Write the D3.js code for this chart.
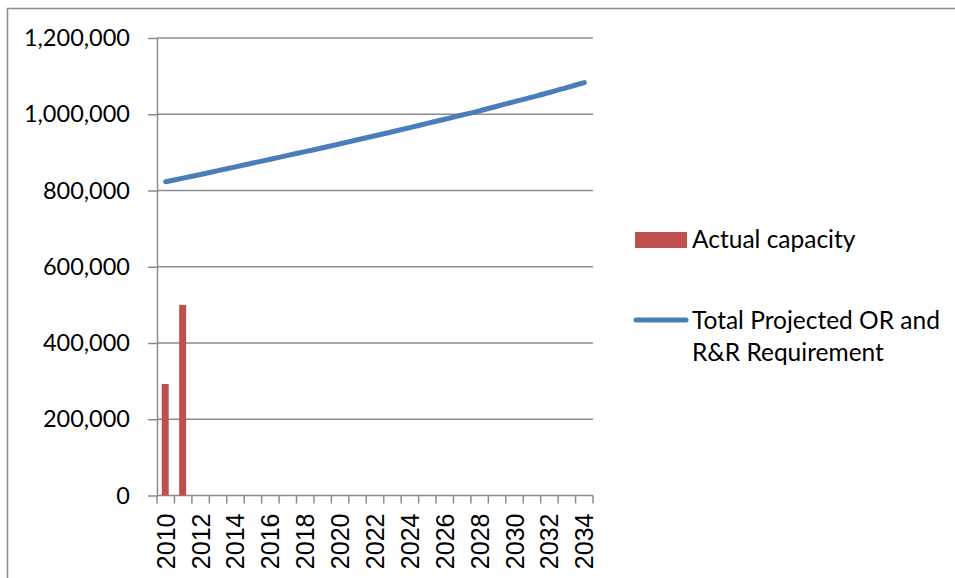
<!DOCTYPE html>
<html>
<head>
<meta charset="utf-8">
<script src="https://cdn.jsdelivr.net/npm/d3@7"></script>
<style>
  body { margin: 0; background: #fff; }
  svg { display: block; }
</style>
</head>
<body>
<div id="chart"></div>
<script>
// Years on the category axis
const years = d3.range(2010, 2035).map(String);

// Actual capacity (bars) - only first two years reported
const actualCapacity = [292500, 500000];

// Total Projected OR and R&R Requirement (line)
const projected = [
  823000, 832500, 842000, 852000, 862000, 872000, 882000, 892000, 902000,
  912000, 922500, 933000, 943500, 954000, 965000, 976000, 987000, 998000,
  1009000, 1021000, 1033000, 1045000, 1057000, 1070000, 1083000
];

const yTicks = [0, 200000, 400000, 600000, 800000, 1000000, 1200000];
const legendLabels = ["Actual capacity", ["Total Projected OR and", "R&R Requirement"]];

const width = 955, height = 578;
const plot = { left: 157, right: 593, top: 38, bottom: 495.5 };

const svg = d3.select("#chart").append("svg")
  .attr("width", width)
  .attr("height", height);

// Chart border (extends past right/bottom edges)
svg.append("rect")
  .attr("x", 7.5).attr("y", 8.5)
  .attr("width", 1000).attr("height", 1000)
  .attr("fill", "none")
  .attr("stroke", "#8c8c8c")
  .attr("stroke-width", 1.5);

const x = d3.scaleBand().domain(years).range([plot.left, plot.right]);
const y = d3.scaleLinear().domain([0, 1200000]).range([plot.bottom, plot.top]);

const fmt = d3.format(",");

// Gridlines
svg.append("g")
  .selectAll("line")
  .data(yTicks.filter(d => d > 0))
  .enter().append("line")
  .attr("x1", plot.left).attr("x2", plot.right)
  .attr("y1", d => y(d)).attr("y2", d => y(d))
  .attr("stroke", "#8c8c8c")
  .attr("stroke-width", 1.5);

// Y axis
const yAxis = svg.append("g")
  .attr("transform", `translate(${plot.left},0)`)
  .call(d3.axisLeft(y).tickValues(yTicks).tickFormat(fmt).tickSize(9).tickPadding(18).tickSizeOuter(0));
yAxis.select(".domain").attr("stroke", "#8c8c8c").attr("stroke-width", 1.5);
yAxis.selectAll(".tick line").attr("stroke", "#8c8c8c").attr("stroke-width", 1.5);
yAxis.selectAll("text")
  .attr("font-family", "Lato, sans-serif")
  .attr("font-size", 23.5)
  .attr("fill", "#000");

// X axis: ticks on category boundaries
const xAxis = svg.append("g");
xAxis.append("line")
  .attr("x1", plot.left).attr("x2", plot.right)
  .attr("y1", plot.bottom).attr("y2", plot.bottom)
  .attr("stroke", "#8c8c8c").attr("stroke-width", 1.5);
xAxis.selectAll("line.tick")
  .data(years.concat(["end"]))
  .enter().append("line")
  .attr("class", "tick")
  .attr("x1", d => d === "end" ? plot.right : x(d))
  .attr("x2", d => d === "end" ? plot.right : x(d))
  .attr("y1", plot.bottom).attr("y2", plot.bottom + 8)
  .attr("stroke", "#8c8c8c").attr("stroke-width", 1.5);
xAxis.selectAll("text")
  .data(years.filter((d, i) => i % 2 === 0))
  .enter().append("text")
  .attr("transform", d => `translate(${x(d) + x.bandwidth() / 2},${plot.bottom + 18}) rotate(-90)`)
  .attr("text-anchor", "end")
  .attr("dy", "0.36em")
  .attr("font-family", "'Liberation Sans', Arial, sans-serif")
  .attr("font-size", 25)
  .attr("fill", "#000")
  .text(d => d);

// Bars
const barW = 7;
svg.append("g")
  .selectAll("rect")
  .data(actualCapacity)
  .enter().append("rect")
  .attr("x", (d, i) => x(years[i]) + x.bandwidth() / 2 - barW / 2 - 0.5)
  .attr("y", d => y(d))
  .attr("width", barW)
  .attr("height", d => plot.bottom - y(d))
  .attr("fill", "#c0504d");

// Line
const line = d3.line()
  .x((d, i) => x(years[i]) + x.bandwidth() / 2)
  .y(d => y(d))
  .curve(d3.curveMonotoneX);

svg.append("path")
  .datum(projected)
  .attr("d", line)
  .attr("fill", "none")
  .attr("stroke", "#4a7ebb")
  .attr("stroke-width", 5)
  .attr("stroke-linecap", "round");

// Legend
const legend = svg.append("g").attr("font-family", "Lato, sans-serif").attr("font-size", 24.5);
legend.append("rect")
  .attr("x", 635).attr("y", 232)
  .attr("width", 52).attr("height", 16)
  .attr("fill", "#c0504d");
legend.append("text")
  .attr("x", 692).attr("y", 248)
  .text(legendLabels[0]);

legend.append("line")
  .attr("x1", 636).attr("x2", 686)
  .attr("y1", 320).attr("y2", 320)
  .attr("stroke", "#4a7ebb")
  .attr("stroke-width", 5)
  .attr("stroke-linecap", "round");
legend.append("text")
  .attr("x", 692).attr("y", 329)
  .selectAll("tspan")
  .data(legendLabels[1])
  .enter().append("tspan")
  .attr("x", 692)
  .attr("dy", (d, i) => i === 0 ? 0 : 32)
  .text(d => d);
</script>
</body>
</html>
